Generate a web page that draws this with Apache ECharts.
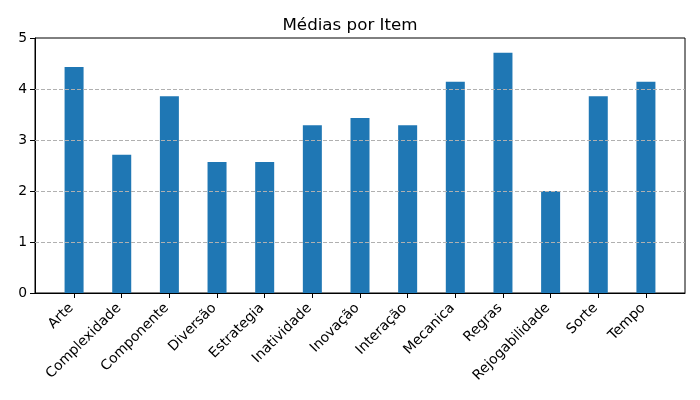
<!DOCTYPE html>
<html>
<head>
<meta charset="utf-8">
<script src="https://cdn.jsdelivr.net/npm/echarts@6/dist/echarts.min.js"></script>
<style>
html, body { margin: 0; padding: 0; background: #fff; }
#chart { width: 700px; height: 400px; }
</style>
</head>
<body>
<div id="chart"></div>
<script>
var itens = ['Arte', 'Complexidade', 'Componente', 'Diversão', 'Estrategia', 'Inatividade',
    'Inovação', 'Interação', 'Mecanica', 'Regras', 'Rejogabilidade', 'Sorte', 'Tempo'];
var medias = [4.43, 2.71, 3.86, 2.57, 2.57, 3.29, 3.43, 3.29, 4.14, 4.71, 2.0, 3.86, 4.14];
var yTicks = [1, 2, 3, 4];

// posições dos itens no eixo x (0..12), com margem igual a do matplotlib
var posicoes = itens.map(function (nome, i) { return i; });
var pontos = medias.map(function (v, i) { return [i, v]; });

var myChart = echarts.init(document.getElementById('chart'));

var option = {
    animation: false,
    title: {
        text: 'Médias por Item',
        left: 'center',
        top: 12,
        textStyle: {
            fontFamily: 'DejaVu Sans',
            fontSize: 16.7,
            fontWeight: 'normal',
            color: '#000'
        }
    },
    grid: {
        left: 35,
        right: 15,
        top: 38,
        bottom: 107,
        show: true,
        borderColor: '#000',
        borderWidth: 1
    },
    xAxis: {
        type: 'value',
        min: -0.82,
        max: 12.82,
        splitLine: { show: false },
        axisLine: { onZero: false, lineStyle: { color: '#000' } },
        axisTick: { show: true, customValues: posicoes, length: 5, lineStyle: { color: '#000' } },
        axisLabel: {
            customValues: posicoes,
            formatter: function (v) { return itens[v]; },
            rotate: 45,
            margin: 10,
            padding: [0, 4, 0, 0],
            fontFamily: 'DejaVu Sans',
            fontSize: 13.9,
            color: '#000'
        }
    },
    yAxis: {
        type: 'value',
        min: 0,
        max: 5,
        interval: 1,
        axisLine: { show: true, onZero: false, lineStyle: { color: '#000' } },
        axisTick: { show: true, length: 5, lineStyle: { color: '#000' } },
        axisLabel: {
            margin: 8,
            fontFamily: 'DejaVu Sans',
            fontSize: 13.9,
            color: '#000'
        },
        splitLine: { show: false }
    },
    series: [{
        type: 'bar',
        data: pontos,
        barWidth: 19,
        itemStyle: { color: '#1f77b4' },
        markLine: {
            silent: true,
            symbol: 'none',
            label: { show: false },
            lineStyle: { color: '#b0b0b0', type: [4, 2], width: 1 },
            data: yTicks.map(function (v) { return { yAxis: v }; })
        }
    }]
};

myChart.setOption(option);
</script>
</body>
</html>
